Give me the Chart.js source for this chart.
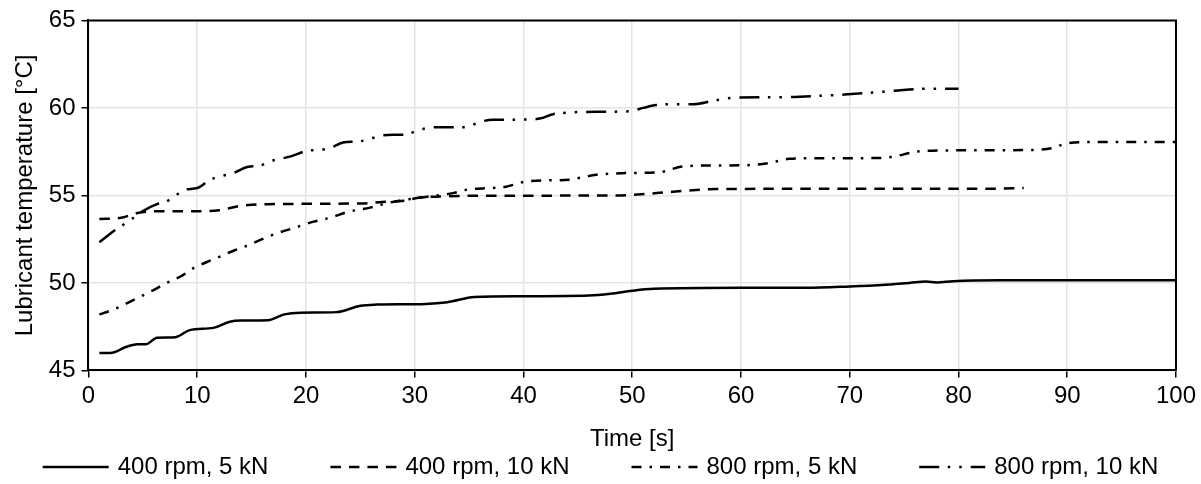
<!DOCTYPE html>
<html>
<head>
<meta charset="utf-8">
<script src="https://cdn.jsdelivr.net/npm/chart.js@4/dist/chart.umd.min.js"></script>
<style>
  html, body { margin: 0; padding: 0; background: #fff; }
  #wrap { width: 1201px; height: 484px; position: relative; }
</style>
</head>
<body>
<div id="wrap"><canvas id="chart"></canvas></div>
<script>
// series names
var seriesLabels = ['400 rpm, 5 kN', '400 rpm, 10 kN', '800 rpm, 5 kN', '800 rpm, 10 kN'];

// 400 rpm, 5 kN
var time_400_5 = [1, 2, 3.5, 4.5, 5.3, 6.3, 8, 9.3, 11.5, 13, 14, 16.5, 18, 19.5, 22.8, 25, 26.5, 31, 33, 35.5, 40, 46, 48, 50, 52, 60, 66, 70, 73.3, 75.5, 77, 78, 79.5, 84, 100];
var temp_400_5 = [46.0, 46.0, 46.35, 46.5, 46.5, 46.87, 46.9, 47.3, 47.43, 47.78, 47.85, 47.87, 48.2, 48.3, 48.33, 48.7, 48.76, 48.8, 48.9, 49.2, 49.24, 49.28, 49.38, 49.55, 49.66, 49.72, 49.72, 49.8, 49.9, 50.0, 50.08, 50.03, 50.1, 50.15, 50.15];

// 400 rpm, 10 kN
var time_400_10 = [1, 3, 4.5, 6, 10, 12, 14, 16.5, 25, 27, 29, 30.5, 33, 36, 48.5, 50.5, 53, 55, 57.7, 70, 83, 86];
var temp_400_10 = [53.65, 53.72, 54.0, 54.09, 54.09, 54.15, 54.4, 54.5, 54.54, 54.62, 54.7, 54.88, 54.95, 54.98, 55.0, 55.05, 55.17, 55.27, 55.36, 55.38, 55.38, 55.42];

// 800 rpm, 5 kN
var time_800_5 = [1, 2.3, 3.9, 5.7, 7.2, 8.5, 9.7, 11.5, 13.4, 14.6, 17, 19.2, 20.7, 22.2, 23.8, 25.9, 27.4, 29.9, 31.5, 33.5, 35, 37, 38.4, 40.3, 42.4, 44.2, 46.7, 50, 52.5, 54.6, 57.7, 60.1, 62.6, 64.4, 67, 71.5, 73.8, 76.1, 78, 82, 87, 88.6, 89.8, 91.7, 100];
var temp_800_5 = [48.2, 48.48, 48.95, 49.5, 50.0, 50.38, 50.86, 51.35, 51.85, 52.13, 52.76, 53.2, 53.5, 53.72, 54.05, 54.3, 54.55, 54.82, 54.95, 55.13, 55.35, 55.42, 55.5, 55.8, 55.86, 55.9, 56.18, 56.28, 56.32, 56.65, 56.71, 56.72, 56.85, 57.09, 57.13, 57.13, 57.19, 57.5, 57.56, 57.58, 57.6, 57.7, 57.95, 58.05, 58.05];

// 800 rpm, 10 kN
var time_800_10 = [1, 2.3, 3.9, 5, 6.3, 7, 8, 8.8, 10, 11.2, 12.1, 13.4, 14.6, 15.8, 16.7, 18.6, 20.1, 21, 22.2, 23.4, 24.7, 25.6, 26.8, 28, 29.1, 30, 31.1, 32.3, 34.6, 36, 37.2, 40, 41.5, 42.7, 43.6, 45.5, 49.8, 51, 52.2, 54, 55.6, 57.4, 58.6, 59.8, 64.4, 67.6, 69.5, 72.2, 74.1, 77, 80];
var temp_800_10 = [52.32, 52.95, 53.61, 54.1, 54.5, 54.6, 54.98, 55.32, 55.42, 55.9, 56.08, 56.3, 56.62, 56.7, 56.94, 57.23, 57.55, 57.6, 57.7, 58.02, 58.08, 58.17, 58.4, 58.46, 58.46, 58.65, 58.84, 58.9, 58.9, 59.2, 59.33, 59.33, 59.39, 59.64, 59.71, 59.77, 59.81, 60.0, 60.16, 60.21, 60.21, 60.4, 60.53, 60.59, 60.62, 60.7, 60.76, 60.88, 60.98, 61.1, 61.1];

var FONT = '"Liberation Sans", Arial, sans-serif';

function toPoints(xs, ys) {
	var pts = [];
	for (var i = 0; i < xs.length; i++) {
		pts.push({x: xs[i], y: ys[i]});
	}
	return pts;
}

function makeSet(label, xs, ys, dash) {
	return {
		label: label,
		data: toPoints(xs, ys),
		borderColor: '#000',
		backgroundColor: '#000',
		borderWidth: 2.5,
		borderDash: dash,
		pointRadius: 0,
		fill: false,
		cubicInterpolationMode: 'monotone'
	};
}

// draws the legend row under the axis title
var bottomLegend = {
	id: 'bottomLegend',
	afterDraw: function(chart) {
		var ctx = chart.ctx;
		var sets = chart.data.datasets;
		var lineLen = 66, gap = 9, spacing = 62;
		ctx.save();
		ctx.font = '24px ' + FONT;
		var widths = sets.map(function(ds) {
			return lineLen + gap + ctx.measureText(ds.label).width;
		});
		var total = widths.reduce(function(a, b) { return a + b; }, 0) + spacing * (sets.length - 1);
		var x = (chart.width - total) / 2;
		var y = chart.height - 17;
		sets.forEach(function(ds, i) {
			ctx.beginPath();
			ctx.setLineDash(ds.borderDash || []);
			ctx.lineWidth = ds.borderWidth;
			ctx.strokeStyle = ds.borderColor;
			ctx.moveTo(x, y);
			ctx.lineTo(x + lineLen, y);
			ctx.stroke();
			ctx.setLineDash([]);
			ctx.fillStyle = '#000';
			ctx.textAlign = 'left';
			ctx.textBaseline = 'middle';
			ctx.fillText(ds.label, x + lineLen + gap, y);
			x += widths[i] + spacing;
		});
		ctx.restore();
	}
};

// top and right edges of the plot box
var frameBox = {
	id: 'frameBox',
	afterDraw: function(chart) {
		var a = chart.chartArea;
		var ctx = chart.ctx;
		ctx.save();
		ctx.strokeStyle = '#000';
		ctx.lineWidth = 2;
		ctx.beginPath();
		ctx.moveTo(a.left, a.top);
		ctx.lineTo(a.right, a.top);
		ctx.lineTo(a.right, a.bottom);
		ctx.stroke();
		ctx.restore();
	}
};

var chartData = {
	datasets: [
		makeSet(seriesLabels[0], time_400_5, temp_400_5, []),
		makeSet(seriesLabels[1], time_400_10, temp_400_10, [10.5, 8]),
		makeSet(seriesLabels[2], time_800_5, temp_800_5, [10, 8, 2.5, 8]),
		makeSet(seriesLabels[3], time_800_10, temp_800_10, [20, 8.5, 2.5, 9, 2.5, 9])
	]
};

var thisChart = new Chart(document.getElementById('chart'), {
	type: 'line',
	data: chartData,
	options: {
		responsive: true,
		maintainAspectRatio: false,
		animation: false,
		layout: { padding: { top: 11, right: 16, bottom: 30, left: 11 } },
		plugins: {
			legend: { display: false },
			tooltip: { enabled: false }
		},
		scales: {
			x: {
				type: 'linear',
				min: 0,
				max: 100,
				ticks: { stepSize: 10, color: '#000', padding: 5, font: { family: FONT, size: 24 } },
				grid: { color: '#e4e4e4', lineWidth: 1.5, tickLength: 7, tickColor: '#000', tickWidth: 1.5 },
				border: { color: '#000', width: 2 },
				title: { display: true, text: 'Time [s]', color: '#000', font: { family: FONT, size: 24 }, padding: { top: 9, bottom: 0 } }
			},
			y: {
				min: 45,
				max: 65,
				ticks: { stepSize: 5, color: '#000', padding: 6, font: { family: FONT, size: 24 } },
				grid: { color: '#e4e4e4', lineWidth: 1.5, tickLength: 7, tickColor: '#000', tickWidth: 1.5 },
				border: { color: '#000', width: 2 },
				title: { display: true, text: 'Lubricant temperature [°C]', color: '#000', font: { family: FONT, size: 24 }, padding: { top: 0, bottom: 3 } }
			}
		}
	},
	plugins: [bottomLegend, frameBox]
});
</script>
</body>
</html>
